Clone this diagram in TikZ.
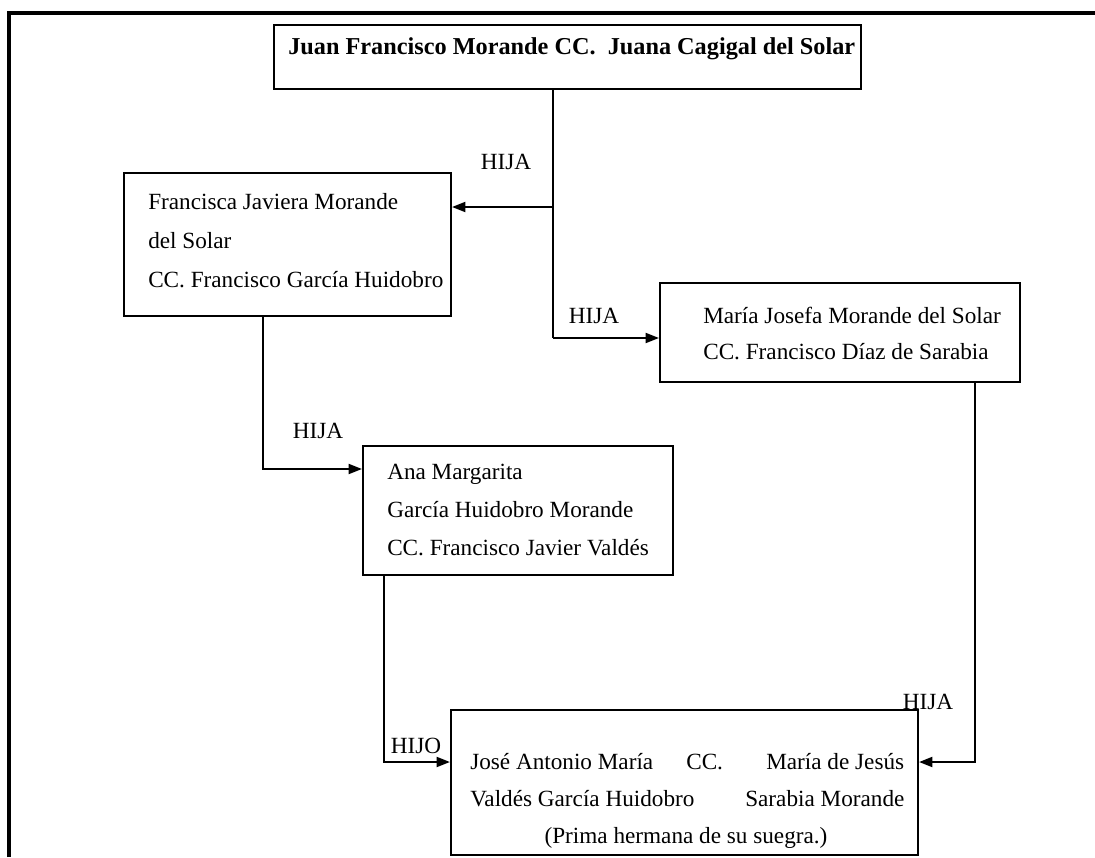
\documentclass[tikz,border=0pt]{standalone}
\usepackage{fontspec}
\setmainfont{Liberation Serif}
\usetikzlibrary{arrows.meta,fit}
\begin{document}
\begin{tikzpicture}[x=0.75pt,y=-0.75pt,
  box/.style={draw, line width=1.6pt, inner sep=0pt},
  txt/.style={anchor=base west, inner sep=0pt, font=\fontsize{17.4}{20}\selectfont},
  bold/.style={anchor=base west, inner sep=0pt, font=\fontsize{18.2}{22}\selectfont\bfseries},
  lbl/.style={inner sep=0pt, font=\fontsize{17.4}{20}\selectfont},
  link/.style={line width=1.5pt},
  arr/.style={line width=1.5pt, -{Triangle[length=10pt,width=7.5pt]}},
  frame/.style={line width=2.6pt}]
\useasboundingbox (0,0) rectangle (1095,857);

% page frame (top and left edges)
\coordinate (fa) at (9,857);
\coordinate (fb) at (9,13);
\coordinate (fc) at (1095,13);
\draw[frame] (fa) -- (fb) -- (fc);

% family boxes
\node[box, fit={(274,25) (861,89)}] (top) {};
\node[box, fit={(124,173) (451,316)}] (fran) {};
\node[box, fit={(660,283) (1020,382)}] (mjosefa) {};
\node[box, fit={(363,446) (673,575)}] (ana) {};
\node[box, fit={(451,710) (918,855)}] (jose) {};

% box contents
\node[bold] (t1) at (288,54) {Juan Francisco Morande CC.\ \ Juana Cagigal del Solar};

\node[txt] (f1) at (148,209) {Francisca Javiera Morande};
\node[txt] (f2) at (148,248) {del Solar};
\node[txt] (f3) at (148,287) {CC. Francisco García Huidobro};

\node[txt] (m1) at (703,323) {María Josefa Morande del Solar};
\node[txt] (m2) at (703,359) {CC.\ Francisco Díaz de Sarabia};

\node[txt] (a1) at (387,479) {Ana Margarita};
\node[txt] (a2) at (387,517) {García Huidobro Morande};
\node[txt] (a3) at (387,555) {CC. Francisco Javier Valdés};

\node[txt] (j1) at (470,769) {José Antonio María};
\node[txt] (j2) at (686,769) {CC.};
\node[txt] (j3) at (766,769) {María de Jesús};
\node[txt] (j4) at (470,806) {Valdés García Huidobro};
\node[txt] (j5) at (745,806) {Sarabia Morande};
\node[lbl, anchor=base] (j6) at (686,843) {(Prima hermana de su suegra.)};

% junction points of the connectors
\coordinate (ja) at (553,207);
\coordinate (jb) at (553,338);
\coordinate (jc) at (263,469);
\coordinate (jd) at (384,762);
\coordinate (je) at (975,762);

% connectors
\draw[link] (top.south -| ja) -- (jb);
\draw[arr] (ja) -- (fran.east |- ja);
\draw[arr] (jb) -- (mjosefa.west |- jb);
\draw[arr] (fran.south -| jc) -- (jc) -- (ana.west |- jc);
\draw[arr] (ana.south -| jd) -- (jd) -- (jose.west |- jd);
\draw[arr] (mjosefa.south -| je) -- (je) -- (jose.east |- je);

% relationship labels
\node[lbl] (l1) at (506,162) {HIJA};
\node[lbl] (l2) at (594,316) {HIJA};
\node[lbl] (l3) at (318,431) {HIJA};
\node[lbl] (l4) at (416,746) {HIJO};
\node[lbl] (l5) at (928,702) {HIJA};
\end{tikzpicture}
\end{document}
